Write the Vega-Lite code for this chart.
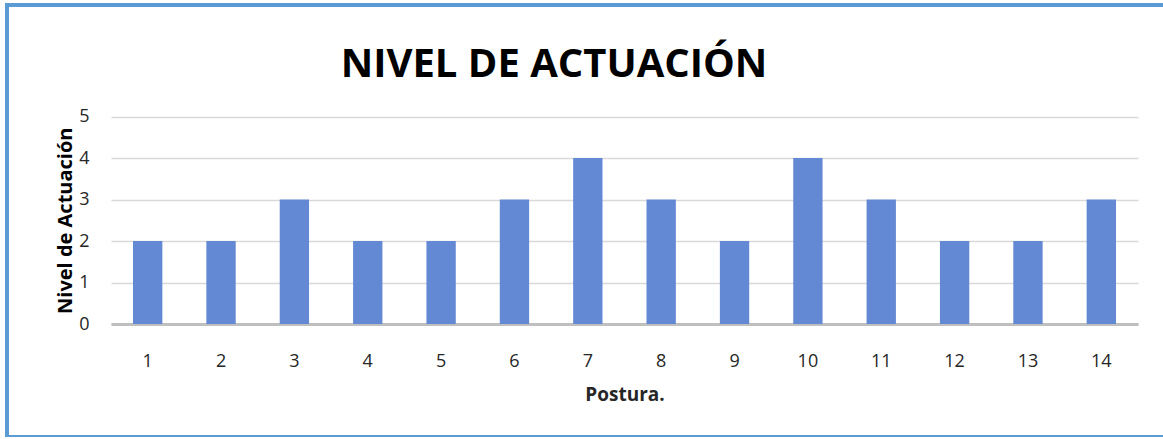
{
  "$schema": "https://vega.github.io/schema/vega-lite/v6.json",
  "autosize": "none",
  "width": 1160,
  "height": 432,
  "padding": {"left": 7, "top": 5, "right": 0, "bottom": 0},
  "background": "white",
  "config": {
    "view": {"stroke": "#5b9bd5", "strokeWidth": 4},
    "font": "Open Sans"
  },
  "title": {
    "text": "NIVEL DE ACTUACIÓN",
    "font": "Open Sans",
    "fontSize": 40,
    "fontWeight": "bold",
    "color": "#000000",
    "anchor": "middle",
    "baseline": "alphabetic",
    "offset": 0,
    "dy": 112,
    "dx": -33
  },
  "data": {
    "values": [
      {"Postura": 1, "Nivel": 2},
      {"Postura": 2, "Nivel": 2},
      {"Postura": 3, "Nivel": 3},
      {"Postura": 4, "Nivel": 2},
      {"Postura": 5, "Nivel": 2},
      {"Postura": 6, "Nivel": 3},
      {"Postura": 7, "Nivel": 4},
      {"Postura": 8, "Nivel": 3},
      {"Postura": 9, "Nivel": 2},
      {"Postura": 10, "Nivel": 4},
      {"Postura": 11, "Nivel": 3},
      {"Postura": 12, "Nivel": 2},
      {"Postura": 13, "Nivel": 2},
      {"Postura": 14, "Nivel": 3}
    ]
  },
  "mark": {"type": "bar", "color": "#6489d4"},
  "encoding": {
    "x": {
      "field": "Postura",
      "type": "ordinal",
      "scale": {"range": [104, 1131], "paddingInner": 0.6, "paddingOuter": 0.3},
      "axis": {
        "orient": "bottom",
        "offset": -113,
        "labelAngle": 0,
        "labelFontSize": 18,
        "labelColor": "#262626",
        "labelPadding": 28,
        "labelBaseline": "top",
        "ticks": false,
        "domainColor": "#bfbfbf",
        "domainWidth": 3,
        "grid": false,
        "title": "Postura.",
        "titleFontSize": 19,
        "titleFontWeight": "bold",
        "titleColor": "#262626",
        "titlePadding": 15
      }
    },
    "y": {
      "field": "Nivel",
      "type": "quantitative",
      "scale": {"domain": [0, 5], "range": [319, 111.5], "nice": false, "zero": true},
      "axis": {
        "orient": "left",
        "offset": -104,
        "values": [0, 1, 2, 3, 4, 5],
        "labelFontSize": 18,
        "labelColor": "#262626",
        "labelPadding": 22,
        "ticks": false,
        "domain": false,
        "grid": true,
        "gridColor": "#d9d9d9",
        "gridWidth": 1.5,
        "title": "Nivel de Actuación",
        "titleFontSize": 20,
        "titleFontWeight": "bold",
        "titleColor": "#000000",
        "titlePadding": 3
      }
    }
  }
}
